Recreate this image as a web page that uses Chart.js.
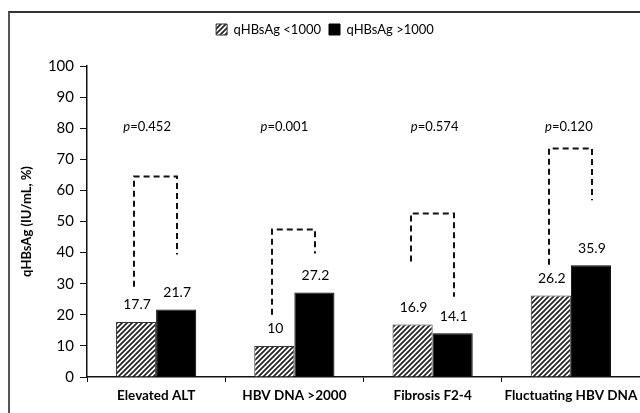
<!DOCTYPE html>
<html><head><meta charset="utf-8">
<script src="https://cdn.jsdelivr.net/npm/chart.js@4.4.1/dist/chart.umd.min.js"></script>
<style>
html,body{margin:0;padding:0;background:#fff;}
#wrap{position:relative;width:640px;height:413px;overflow:hidden;background:#fff;}
#frame{position:absolute;left:8px;top:11px;width:700px;height:500px;border-top:2px solid #333;border-left:2px solid #555;}
canvas{position:absolute;left:0;top:0;}
</style></head><body>
<div id="wrap"><div id="frame"></div><canvas id="c" width="640" height="413"></canvas></div>
<script>
const categories = ['Elevated ALT', 'HBV DNA >2000', 'Fibrosis F2-4', 'Fluctuating HBV DNA'];
const seriesNames = ['qHBsAg <1000', 'qHBsAg >1000'];
const yAxisTitle = 'qHBsAg (IU/mL, %)';
const lowValues = [17.7, 10, 16.9, 26.2];
const highValues = [21.7, 27.2, 14.1, 35.9];
const pValues = ['0.452', '0.001', '0.574', '0.120'];
const pLevel = 80.3;
const bracketTop = [64.5, 47.4, 52.6, 73.5];
const bracketLeftEnd = [29, 20, 37.1, 36.1];
const bracketRightEnd = [39.4, 39.7, 25.8, 56.8];
const yTickValues = [0, 10, 20, 30, 40, 50, 60, 70, 80, 90, 100];

function hatch() {
  const p = document.createElement('canvas'); p.width = p.height = 5;
  const g = p.getContext('2d');
  g.fillStyle = '#fff'; g.fillRect(0, 0, 5, 5);
  g.strokeStyle = '#222'; g.lineWidth = 1.7;
  g.beginPath();
  g.moveTo(-1, 6); g.lineTo(6, -1);
  g.moveTo(-1, 1); g.lineTo(1, -1);
  g.moveTo(4, 6); g.lineTo(6, 4);
  g.stroke();
  return g.createPattern(p, 'repeat');
}

const pNudge = [-9, -10, 2, -2];
const FONT = 'Lato';

const annot = {
  id: 'annot',
  afterDatasetsDraw(chart) {
    const ctx = chart.ctx, y = chart.scales.y, x = chart.scales.x;
    const m0 = chart.getDatasetMeta(0), m1 = chart.getDatasetMeta(1);
    ctx.save();
    // y axis title
    ctx.save();
    ctx.translate(y.left + 17, (y.top + y.bottom) / 2);
    ctx.rotate(-Math.PI / 2);
    ctx.font = 'bold 13px ' + FONT;
    ctx.fillStyle = '#000';
    ctx.textAlign = 'center';
    ctx.textBaseline = 'middle';
    ctx.fillText(yAxisTitle, 0, 0);
    ctx.restore();

    ctx.font = '14px ' + FONT;
    ctx.fillStyle = '#000';
    ctx.textAlign = 'center';
    ctx.textBaseline = 'middle';
    [m0, m1].forEach((m, di) => m.data.forEach((bar, i) => {
      const v = chart.data.datasets[di].data[i];
      ctx.fillText(String(v), bar.x + 1, bar.y - 17);
    }));
    ctx.setLineDash([6, 4]);
    ctx.lineWidth = 2;
    ctx.strokeStyle = '#111';
    for (let i = 0; i < categories.length; i++) {
      const xl = Math.round(m0.data[i].x - 2), xr = Math.round(m1.data[i].x + 1);
      const yt = y.getPixelForValue(bracketTop[i]);
      ctx.beginPath();
      ctx.moveTo(xl, y.getPixelForValue(bracketLeftEnd[i]));
      ctx.lineTo(xl, yt);
      ctx.lineTo(xr, yt);
      ctx.lineTo(xr, y.getPixelForValue(bracketRightEnd[i]));
      ctx.stroke();
    }
    ctx.setLineDash([]);
    ctx.textAlign = 'left';
    for (let i = 0; i < categories.length; i++) {
      const cx = x.getPixelForValue(i) + pNudge[i];
      const py = y.getPixelForValue(pLevel);
      ctx.font = 'italic 13px ' + FONT;
      const w1 = ctx.measureText('p').width;
      ctx.font = '13px ' + FONT;
      const rest = '=' + pValues[i];
      const w2 = ctx.measureText(rest).width;
      const sx = cx - (w1 + w2) / 2;
      ctx.font = 'italic 13px ' + FONT;
      ctx.fillText('p', sx, py);
      ctx.font = '13px ' + FONT;
      ctx.fillText(rest, sx + w1, py);
    }
    ctx.restore();
  }
};

const hatchFill = hatch();

new Chart(document.getElementById('c'), {
  type: 'bar',
  data: {
    labels: categories,
    datasets: [
      { label: seriesNames[0], data: lowValues, backgroundColor: hatchFill, borderColor: '#333', borderWidth: 1, xAxisID: 'x', yAxisID: 'y' },
      { label: seriesNames[1], data: highValues, backgroundColor: '#000', borderColor: '#000', borderWidth: 1, xAxisID: 'x', yAxisID: 'y' }
    ]
  },
  options: {
    responsive: false,
    animation: false,
    devicePixelRatio: 1,
    layout: { padding: { top: 15, left: 10, right: 0, bottom: 0 } },
    datasets: { bar: { categoryPercentage: 0.58, barPercentage: 1 } },
    plugins: {
      tooltip: { enabled: false },
      legend: {
        position: 'top',
        labels: { boxWidth: 11, boxHeight: 11, padding: 8, color: '#000', font: { family: FONT, size: 13 } }
      }
    },
    scales: {
      x: {
        type: 'category',
        position: 'bottom',
        offset: true,
        grid: { offset: true, drawOnChartArea: false, tickLength: 5, color: '#111' },
        border: { color: '#111', width: 1.5 },
        ticks: { color: '#000', font: { family: FONT, size: 13.5, weight: 'bold' }, padding: 6, maxRotation: 0, autoSkip: false },
        afterFit(s) { s.height = 36; s.paddingLeft = 0; s.paddingRight = 0; }
      },
      x2: {
        type: 'category',
        position: 'top',
        grid: { display: false },
        border: { display: false },
        ticks: { display: false },
        afterFit(s) { s.height = 20; s.paddingLeft = 0; s.paddingRight = 0; }
      },
      y: {
        min: 0, max: 100,
        afterBuildTicks(s) { s.ticks = yTickValues.map(v => ({ value: v })); },
        ticks: { color: '#000', font: { family: FONT, size: 15 }, padding: 6 },
        grid: { drawOnChartArea: false, color: '#111', tickLength: 7 },
        border: { color: '#111', width: 1.5 },
        title: { display: false },
        afterFit(s) { s.width = 77; }
      }
    }
  },
  plugins: [annot]
});
</script>
</body></html>
